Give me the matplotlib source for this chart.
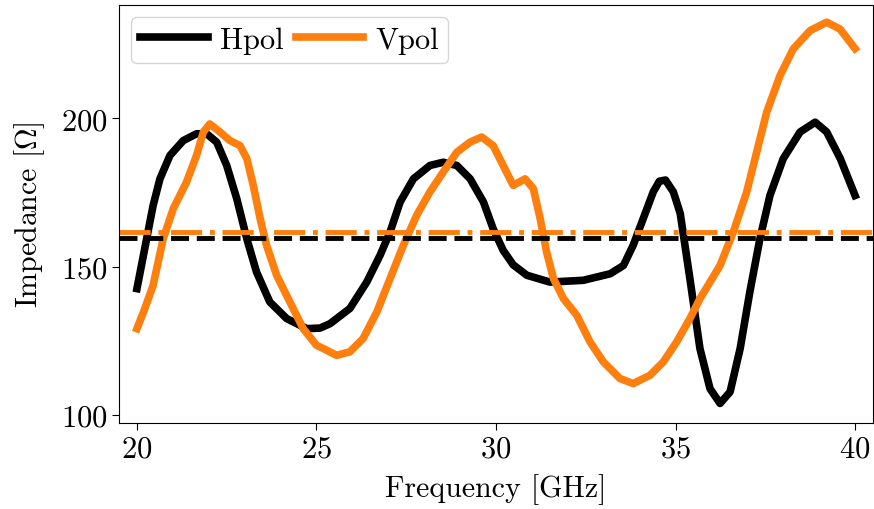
import numpy as np
import matplotlib.pyplot as plt

plt.rcParams['font.family'] = 'serif'
plt.rcParams['font.serif'] = ['cmr10']
plt.rcParams['mathtext.fontset'] = 'cm'
plt.rcParams['axes.formatter.use_mathtext'] = True

# ------------------------------ DATA -----------------------------------------
# Hpol impedance vs frequency
f_h = [20.0, 20.27, 20.45, 20.64, 20.92, 21.29, 21.66, 21.94, 22.22, 22.5, 22.78,
       23.06, 23.33, 23.7, 24.17, 24.73, 25.1, 25.38, 25.93, 26.4, 26.77, 27.05,
       27.33, 27.7, 28.16, 28.53, 28.91, 29.28, 29.65, 29.92, 30.2, 30.48, 30.86,
       31.5, 32.43, 33.18, 33.55, 33.82, 34.1, 34.38, 34.55, 34.72, 34.94, 35.13,
       35.4, 35.68, 35.96, 36.24, 36.52, 36.8, 37.07, 37.35, 37.63, 38.0, 38.47,
       38.89, 39.21, 39.59, 40.0]
z_h = [142.6, 159.4, 170.6, 179.6, 187.5, 192.5, 194.8, 194.8, 192.0, 184.1, 172.9,
       159.4, 148.2, 138.1, 132.5, 129.1, 129.3, 130.8, 135.9, 144.8, 153.8, 161.7,
       171.8, 179.6, 184.1, 185.2, 184.1, 179.6, 171.8, 162.8, 155.5, 150.6, 147.1,
       144.8, 145.4, 147.6, 150.4, 157.2, 166.2, 175.2, 178.8, 179.2, 175.2, 168.0,
       146.0, 122.4, 108.9, 103.9, 107.8, 122.4, 141.5, 159.4, 174.0, 186.4, 195.4,
       198.7, 195.4, 186.4, 174.0]

# Vpol impedance vs frequency
f_v = [20.0, 20.22, 20.45, 20.73, 21.01, 21.38, 21.66, 21.85, 22.03, 22.31, 22.59,
       22.87, 23.06, 23.24, 23.43, 23.61, 23.89, 24.26, 24.63, 25.0, 25.19, 25.56,
       25.93, 26.3, 26.68, 27.05, 27.42, 27.79, 28.16, 28.53, 28.91, 29.28, 29.6,
       29.92, 30.2, 30.48, 30.81, 31.04, 31.23, 31.41, 31.6, 31.88, 32.25, 32.62,
       32.99, 33.45, 33.82, 34.29, 34.66, 35.03, 35.4, 35.68, 36.24, 36.61, 36.98,
       37.26, 37.54, 37.91, 38.28, 38.75, 39.21, 39.58, 40.0]
z_v = [129.1, 135.9, 143.7, 159.4, 169.5, 178.5, 187.5, 195.4, 198.1, 195.4, 192.5,
       190.8, 186.4, 177.4, 166.2, 157.2, 147.1, 138.1, 129.1, 123.5, 122.4, 120.1,
       121.3, 125.8, 134.7, 146.0, 157.2, 167.3, 175.2, 181.9, 188.6, 192.0, 193.7,
       190.8, 184.1, 177.4, 179.6, 176.3, 166.2, 154.9, 146.0, 139.2, 133.6, 124.6,
       117.9, 112.3, 110.6, 113.4, 117.9, 124.6, 132.5, 139.2, 150.4, 161.7, 175.1,
       188.6, 202.1, 214.4, 223.4, 229.6, 232.4, 230.1, 223.5]

mean_h = 159.8
mean_v = 161.7

# ------------------------------ PLOTTING -------------------------------------
fig = plt.figure(figsize=(8.74, 5.10), dpi=100)
ax = fig.add_axes([119/874, 1-424/510, (873-119)/874, (424-6)/510])

ax.plot(f_h, z_h, color='black', lw=5.5, label='Hpol')
ax.plot(f_v, z_v, color='#ff7f0e', lw=5.5, label='Vpol')
ax.axhline(mean_h, color='black', lw=3.5, ls='--')
ax.axhline(mean_v, color='#ff7f0e', lw=3.5, ls='-.')

ax.set_xlim(19.5, 40.5)
ax.set_ylim(97.3, 238.2)
ax.set_xticks([20, 25, 30, 35, 40])
ax.set_yticks([100, 150, 200])
ax.tick_params(labelsize=22, length=5)
ax.set_xlabel('Frequency [GHz]', fontsize=21.5, labelpad=8)
ax.set_ylabel(r'Impedance [$\Omega$]', fontsize=21.5, labelpad=10)
ax.legend(loc='upper left', ncol=2, fontsize=22, handlelength=2.2,
          columnspacing=0.4, handletextpad=0.4, borderpad=0.3,
          borderaxespad=0.4)

fig.savefig('out.png')
